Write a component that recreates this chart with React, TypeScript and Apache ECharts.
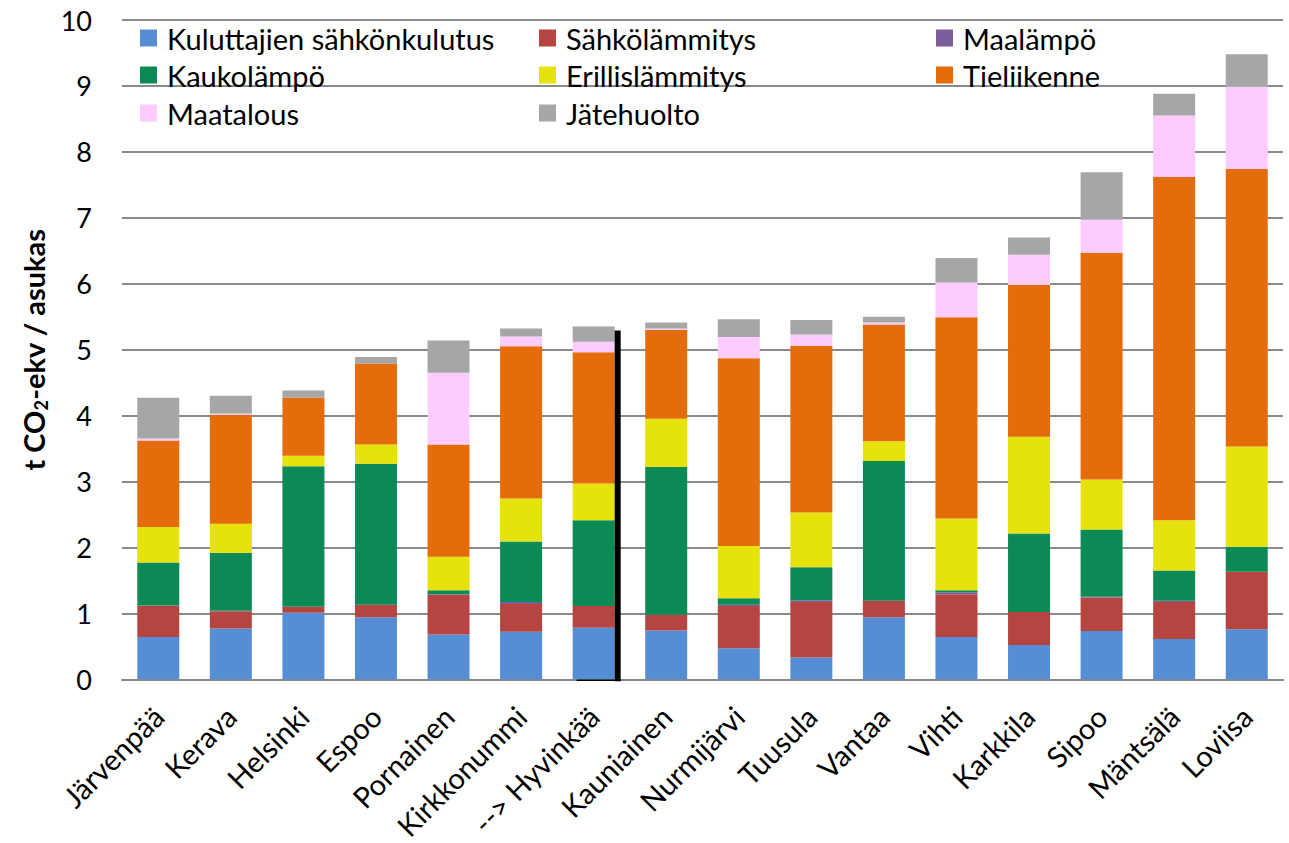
import React, { useEffect, useRef } from "react";
import * as echarts from "echarts";

const categories = [
  "Järvenpää", "Kerava", "Helsinki", "Espoo", "Pornainen", "Kirkkonummi",
  "--> Hyvinkää", "Kauniainen", "Nurmijärvi", "Tuusula", "Vantaa", "Vihti",
  "Karkkila", "Sipoo", "Mäntsälä", "Loviisa",
];

const kuluttajienSahko = [0.64, 0.77, 1.01, 0.94, 0.68, 0.72, 0.78, 0.74, 0.47, 0.33, 0.94, 0.64, 0.52, 0.73, 0.61, 0.76];
const sahkolammitys = [0.47, 0.26, 0.09, 0.19, 0.60, 0.42, 0.33, 0.24, 0.64, 0.84, 0.25, 0.65, 0.50, 0.51, 0.56, 0.87];
const maalampo = [0.01, 0.01, 0, 0, 0.01, 0.03, 0, 0, 0.02, 0.03, 0, 0.03, 0, 0.01, 0.02, 0];
const kaukolampo = [0.65, 0.88, 2.13, 2.14, 0.06, 0.92, 1.30, 2.24, 0.10, 0.50, 2.12, 0.03, 1.19, 1.02, 0.46, 0.38];
const erillislammitys = [0.54, 0.44, 0.16, 0.29, 0.51, 0.65, 0.56, 0.73, 0.79, 0.83, 0.30, 1.09, 1.47, 0.76, 0.76, 1.52];
const tieliikenne = [1.31, 1.65, 0.88, 1.23, 1.70, 2.31, 1.99, 1.35, 2.85, 2.53, 1.77, 3.05, 2.30, 3.44, 5.21, 4.21];
const maatalous = [0.03, 0.02, 0, 0, 1.09, 0.15, 0.16, 0.02, 0.32, 0.17, 0.03, 0.53, 0.46, 0.50, 0.93, 1.25];
const jatehuolto = [0.62, 0.27, 0.11, 0.10, 0.49, 0.12, 0.23, 0.09, 0.27, 0.22, 0.09, 0.37, 0.26, 0.72, 0.33, 0.49];

const seriesNames = [
  "Kuluttajien sähkönkulutus", "Sähkölämmitys", "Maalämpö", "Kaukolämpö",
  "Erillislämmitys", "Tieliikenne", "Maatalous", "Jätehuolto",
];
const seriesData = [kuluttajienSahko, sahkolammitys, maalampo, kaukolampo, erillislammitys, tieliikenne, maatalous, jatehuolto];
const seriesColors = ["#558ED5", "#B64542", "#7B5C9B", "#0B8A56", "#E6E20B", "#E46C0A", "#FDCBFD", "#A6A6A6"];

const yTicks = [0, 1, 2, 3, 4, 5, 6, 7, 8, 9, 10];
const annotationCategory = "--> Hyvinkää";
const annotationTop = 5.29;

const FONT = "Lato, 'Liberation Sans', sans-serif";

export default function App() {
  const ref = useRef<HTMLDivElement>(null);
  useEffect(() => {
    document.body.style.margin = "0";
    if (!ref.current) return;
    const chart = echarts.init(ref.current, null, { renderer: "svg" });

    const legendCols = [140, 539, 936];
    const legendRows = [38, 75, 113];
    const legends = seriesNames.map((name, k) => ({
      data: [name],
      left: legendCols[k % 3],
      top: legendRows[Math.floor(k / 3)] - 16,
      padding: 0,
      itemWidth: 17,
      itemHeight: 17,
      selectedMode: false,
      icon: "rect",
      textStyle: { fontFamily: FONT, fontSize: 29, color: "#000", lineHeight: 32, padding: [0, 0, 0, 5] },
    }));

    chart.setOption({
      animation: false,
      textStyle: { fontFamily: FONT },
      grid: { left: 122, right: 6, top: 20, bottom: 163, containLabel: false },
      legend: legends,
      xAxis: {
        type: "category",
        data: categories,
        axisLine: { show: true, lineStyle: { color: "#888", width: 2 } },
        axisTick: { show: false },
        axisLabel: { rotate: 45, fontSize: 29, color: "#000", margin: 32, interval: 0, fontFamily: FONT },
      },
      yAxis: {
        type: "value",
        min: 0,
        max: 10,
        interval: 1,
        axisLine: { show: false },
        axisTick: { show: false },
        splitLine: { show: true, lineStyle: { color: "#8a8a8a", width: 2 } },
        axisLabel: { fontSize: 27, color: "#000", margin: 30, fontFamily: FONT,
          formatter: (v: number) => (yTicks.includes(v) ? String(v) : "") },
        name: "t CO{sub|2}-ekv / asukas",
        nameLocation: "middle",
        nameGap: 60,
        nameRotate: 90,
        nameTextStyle: {
          fontFamily: FONT, fontSize: 29, fontWeight: "bold", color: "#000",
          rich: { sub: { fontFamily: FONT, fontSize: 18, fontWeight: "bold", color: "#000", padding: [14, 0, 0, 0] } },
        },
      },
      series: seriesNames.map((name, i) => ({
        name,
        type: "bar",
        stack: "total",
        barWidth: 42,
        data: seriesData[i],
        itemStyle: { color: seriesColors[i] },
      })),
    });

    const idx = categories.indexOf(annotationCategory);
    const [cx, yTop] = chart.convertToPixel({ gridIndex: 0 }, [idx, annotationTop]);
    const [, yBase] = chart.convertToPixel({ gridIndex: 0 }, [idx, 0]);
    const lineX = cx + 21 + 3;
    chart.setOption({
      graphic: [
        { type: "line", shape: { x1: lineX, y1: yTop, x2: lineX, y2: yBase + 2 }, style: { stroke: "#000", lineWidth: 6 }, z: 100 },
        { type: "line", shape: { x1: cx - 17, y1: yBase + 1, x2: lineX + 3, y2: yBase + 1 }, style: { stroke: "#000", lineWidth: 1.5 }, z: 100 },
      ],
    });

    return () => chart.dispose();
  }, []);
  return <div ref={ref} style={{ width: 1289, height: 843 }} />;
}
